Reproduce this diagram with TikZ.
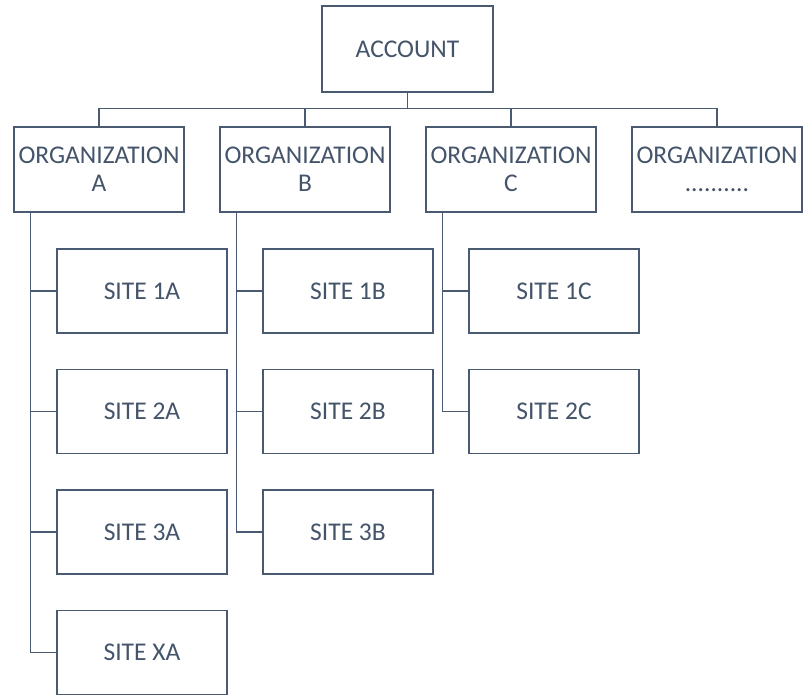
\documentclass[tikz,border=0pt]{standalone}
\usepackage{fontspec}
\setmainfont{Carlito}
\definecolor{boxline}{HTML}{4A5A70}
\definecolor{boxtext}{HTML}{44546A}
\begin{document}
\begin{tikzpicture}[x=1pt,y=-1pt,
  every node/.style={font=\fontsize{25.5}{28}\selectfont, text=boxtext},
  boxbase/.style={draw=boxline, line width=1.4pt, fill=white, inner sep=0pt, align=center},
  accbox/.style={boxbase, minimum width=171pt, minimum height=86pt},
  orgbox/.style={boxbase, minimum width=170pt, minimum height=85pt},
  sitebox/.style={boxbase, minimum width=170pt, minimum height=84pt},
  link/.style={draw=boxline, line width=1.4pt}]
\useasboundingbox (0,0) rectangle (803,696);
\node[accbox] (acc) at (407.5,49) {ACCOUNT};
\node[orgbox] (oA) at (99,169.5) {ORGANIZATION\\A};
\node[orgbox] (oB) at (305,169.5) {ORGANIZATION\\B};
\node[orgbox] (oC) at (511,169.5) {ORGANIZATION\\C};
\node[orgbox] (oD) at (717,169.5) {ORGANIZATION\\..........};
\coordinate (bus) at (0,108.5);
\node[sitebox] (s1A) at (142,291) {SITE 1A};
\node[sitebox] (s2A) at (142,411.5) {SITE 2A};
\node[sitebox] (s3A) at (142,532) {SITE 3A};
\node[sitebox] (sXA) at (142,652.5) {SITE XA};
\node[sitebox] (s1B) at (348,291) {SITE 1B};
\node[sitebox] (s2B) at (348,411.5) {SITE 2B};
\node[sitebox] (s3B) at (348,532) {SITE 3B};
\node[sitebox] (s1C) at (554,291) {SITE 1C};
\node[sitebox] (s2C) at (554,411.5) {SITE 2C};
% top tree
\draw[link] (acc.south) -- (acc.south |- bus);
\draw[link] (oA.north) -- (oA.north |- bus) -- (oD.north |- bus) -- (oD.north);
\draw[link] (oB.north) -- (oB.north |- bus);
\draw[link] (oC.north) -- (oC.north |- bus);
% trunks
\coordinate (tA) at ([xshift=17pt]oA.south west);
\coordinate (tB) at ([xshift=17pt]oB.south west);
\coordinate (tC) at ([xshift=17pt]oC.south west);
\draw[link] (tA) |- (sXA.west);
\draw[link] (s1A.west) -- (s1A.west -| tA);
\draw[link] (s2A.west) -- (s2A.west -| tA);
\draw[link] (s3A.west) -- (s3A.west -| tA);
\draw[link] (tB) |- (s3B.west);
\draw[link] (s1B.west) -- (s1B.west -| tB);
\draw[link] (s2B.west) -- (s2B.west -| tB);
\draw[link] (tC) |- (s2C.west);
\draw[link] (s1C.west) -- (s1C.west -| tC);
\end{tikzpicture}
\end{document}
